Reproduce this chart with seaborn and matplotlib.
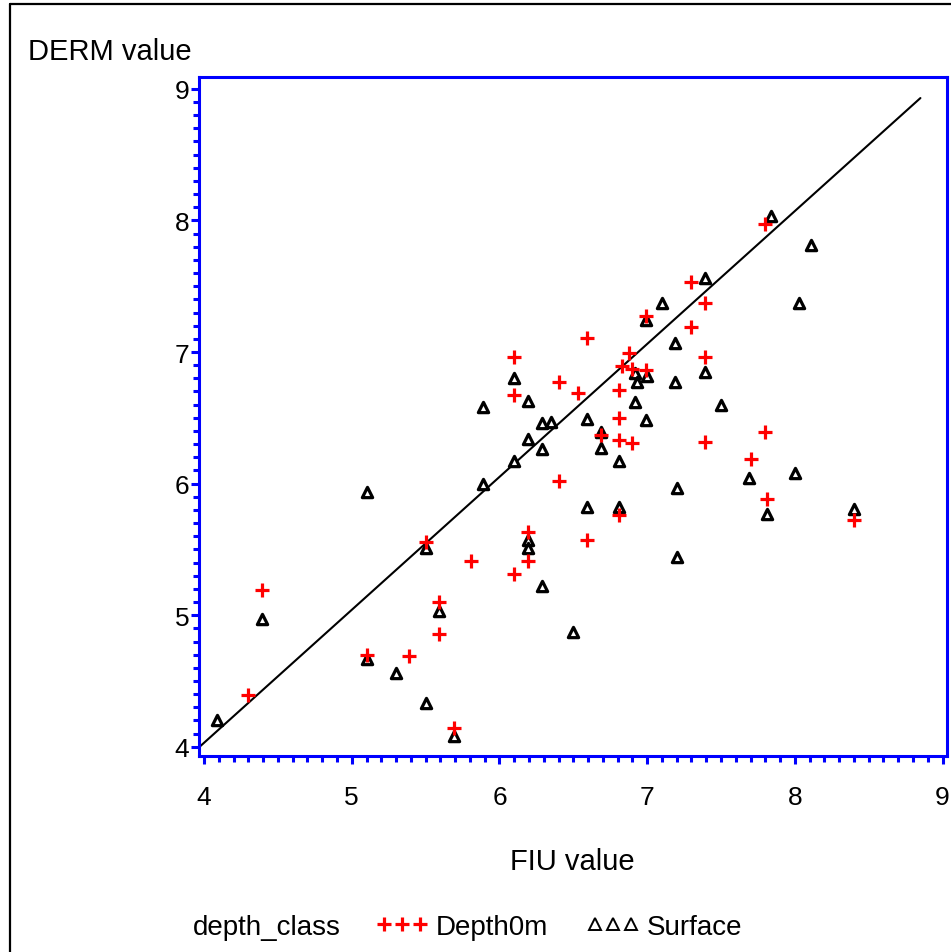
import numpy as np
import pandas as pd
import matplotlib
matplotlib.use("Agg")
import matplotlib.pyplot as plt
from matplotlib.lines import Line2D
from matplotlib.ticker import MultipleLocator
import seaborn as sns

# FIU vs DERM readings, split by depth class
depth0m_fiu = [4.30, 4.39, 5.10, 5.39, 5.50, 5.59, 5.59, 5.69, 5.81, 6.10,
               6.10, 6.10, 6.19, 6.19, 6.40, 6.40, 6.53, 6.59, 6.59, 6.69,
               6.81, 6.81, 6.81, 6.81, 6.83, 6.88, 6.90, 6.90, 6.99, 6.99,
               7.30, 7.30, 7.39, 7.39, 7.39, 7.70, 7.80, 7.80, 7.81, 8.40]
depth0m_derm = [4.39, 5.19, 4.70, 4.69, 5.56, 5.10, 4.86, 4.14, 5.41, 6.96,
                6.67, 5.31, 5.63, 5.41, 6.77, 6.02, 6.69, 7.11, 5.57, 6.37,
                6.71, 6.50, 6.33, 5.76, 6.89, 6.99, 6.87, 6.31, 7.27, 6.86,
                7.53, 7.19, 7.37, 6.96, 6.32, 6.19, 7.97, 6.39, 5.88, 5.72]

surface_fiu = [4.09, 4.39, 5.10, 5.10, 5.30, 5.50, 5.50, 5.59, 5.69, 5.89,
               5.89, 6.10, 6.10, 6.19, 6.19, 6.19, 6.19, 6.29, 6.29, 6.29,
               6.35, 6.50, 6.59, 6.59, 6.69, 6.69, 6.81, 6.81, 6.92, 6.93,
               6.92, 6.99, 7.00, 6.99, 7.10, 7.19, 7.19, 7.20, 7.20, 7.39,
               7.39, 7.50, 7.69, 7.81, 7.84, 8.00, 8.03, 8.11, 8.40]
surface_derm = [4.20, 4.97, 5.94, 4.67, 4.56, 5.51, 4.33, 5.03, 4.08, 6.58,
                6.00, 6.80, 6.17, 6.63, 6.34, 5.57, 5.51, 6.46, 6.26, 5.22,
                6.47, 4.87, 6.49, 5.82, 6.39, 6.27, 6.17, 5.82, 6.84, 6.77,
                6.62, 6.48, 6.82, 7.24, 7.37, 7.07, 6.77, 5.97, 5.44, 7.56,
                6.85, 6.60, 6.04, 5.77, 8.03, 6.08, 7.37, 7.81, 5.81]

# reference line drawn across the panel
ref_x = [3.97, 8.85]
ref_y = [4.00, 8.93]

classes = ["Depth0m", "Surface"]
tick_vals = [4, 5, 6, 7, 8, 9]

df = pd.DataFrame({
    "FIU": depth0m_fiu + surface_fiu,
    "DERM": depth0m_derm + surface_derm,
    "depth_class": [classes[0]] * len(depth0m_fiu) + [classes[1]] * len(surface_fiu),
})

sns.set_theme(style="white")
plt.rcParams["font.family"] = ["Liberation Sans", "DejaVu Sans"]
plt.rcParams["text.color"] = "black"
plt.rcParams["axes.labelcolor"] = "black"
plt.rcParams["xtick.labelcolor"] = "black"
plt.rcParams["ytick.labelcolor"] = "black"

BLUE = "#0000FF"
fig = plt.figure(figsize=(9.51, 9.53), dpi=100)
ax = fig.add_axes([199 / 951, 1 - 757 / 953, (947 - 199) / 951, (757 - 78) / 953])

ax.plot(ref_x, ref_y, color="black", linewidth=1.5, zorder=1)

sns.scatterplot(data=df[df["depth_class"] == classes[0]], x="FIU", y="DERM",
                marker="+", color="red", s=110, linewidth=2.3, ax=ax,
                legend=False, zorder=3)
sns.scatterplot(data=df[df["depth_class"] == classes[1]], x="FIU", y="DERM",
                marker="^", facecolor="white", edgecolor="black", s=55,
                linewidth=2.3, ax=ax, legend=False, zorder=2)

ax.set_xlim(3.966, 9.03)
ax.set_ylim(3.93, 9.09)
ax.set_xticks(tick_vals)
ax.set_yticks(tick_vals)
ax.set_xticklabels([str(v) for v in tick_vals])
ax.set_yticklabels([str(v) for v in tick_vals])
ax.xaxis.set_minor_locator(MultipleLocator(0.1))
ax.yaxis.set_minor_locator(MultipleLocator(0.1))
ax.set_xlabel("")
ax.set_ylabel("")

for sp in ax.spines.values():
    sp.set_color(BLUE)
    sp.set_linewidth(2.2)
    sp.set_visible(True)

ax.tick_params(which="both", direction="out", color=BLUE, bottom=True, left=True,
               top=False, right=False)
ax.tick_params(which="major", length=6, width=2.2, labelsize=19, labelcolor="black")
ax.tick_params(which="minor", length=4, width=2.2)
ax.tick_params(axis="x", which="major", pad=15)
ax.tick_params(axis="y", which="major", pad=1)

fig.text(28 / 951, 1 - 52 / 953, "DERM value", ha="left", va="center",
         fontsize=21, color="black")
fig.text(572 / 951, 1 - 862 / 953, "FIU value", ha="center", va="center",
         fontsize=21, color="black")
fig.text(193 / 951, 1 - 928 / 953, "depth_class", ha="left", va="center",
         fontsize=20, color="black")

handles = [
    Line2D([], [], linestyle="none", marker="+", color="red", markersize=10,
           markeredgewidth=2.3),
    Line2D([], [], linestyle="none", marker="^", markerfacecolor="white",
           markeredgecolor="black", markersize=9, markeredgewidth=1.4),
]
leg = fig.legend(handles, classes, loc="center left",
                 bbox_to_anchor=(376 / 951, 1 - 928 / 953), ncol=2, frameon=False,
                 numpoints=3, fontsize=20, handlelength=1.9, handletextpad=0.25,
                 columnspacing=1.4, borderpad=0, borderaxespad=0)
for t in leg.get_texts():
    t.set_color("black")

# page border along the top and left edges
fig.add_artist(Line2D([10 / 951, 1.0], [1 - 5 / 953, 1 - 5 / 953],
                      transform=fig.transFigure, color="black", linewidth=1.6))
fig.add_artist(Line2D([10 / 951, 10 / 951], [1 - 5 / 953, 0.0],
                      transform=fig.transFigure, color="black", linewidth=1.6))

fig.savefig("out.png", dpi=100)
